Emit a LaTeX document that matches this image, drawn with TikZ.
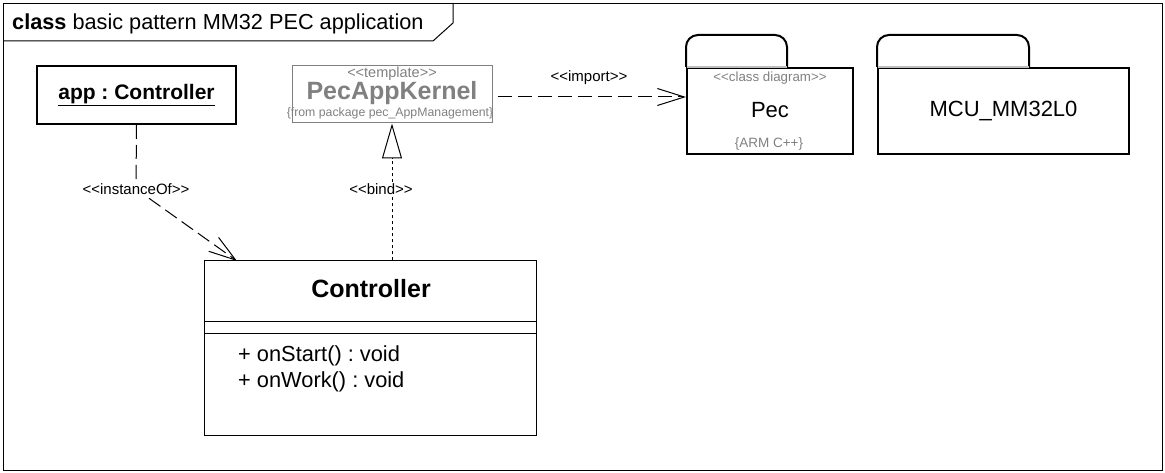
\documentclass[tikz,border=0pt]{standalone}
\usepackage{fontspec}
\setmainfont{Liberation Sans}[Ligatures=TeXOff]
\usetikzlibrary{arrows.meta}

\definecolor{stereogray}{RGB}{128,128,128}
\definecolor{tabgray}{RGB}{190,190,190}
\frenchspacing

\begin{document}
\begin{tikzpicture}[
        x=1pt, y=-1pt,
        class box/.style={
            draw,
            line width=1pt,
            minimum width=332pt,
            minimum height=174pt,
            inner sep=0pt
        },
        object box/.style={
            draw,
            line width=2pt,
            minimum width=199pt,
            minimum height=58pt,
            inner sep=0pt,
            font=\fontsize{21}{25}\selectfont\bfseries
        },
        template box/.style={
            draw=stereogray,
            line width=1pt,
            minimum width=200pt,
            minimum height=57pt,
            inner sep=0pt,
            text=stereogray,
            align=center
        },
        package body/.style={
            draw,
            line width=2pt,
            inner sep=0pt,
            minimum height=86pt
        },
        small label/.style={
            font=\fontsize{15}{18}\selectfont,
            fill=white,
            inner sep=1pt
        },
        uml dashed/.style={
            line width=1pt,
            dash pattern=on 14pt off 6pt
        },
        uml open/.style={
            -{Straight Barb[length=27pt,width=17pt,line width=1pt]}
        }
    ]
        \useasboundingbox (0,0) rectangle (1165,473);

        % diagram frame with title tab
        \node[draw, line width=1pt, minimum width=1159pt, minimum height=467pt,
            inner sep=0pt, anchor=north west] (frame) at (3,3) {};
        \coordinate (tab corner) at (453,3);
        \draw[line width=1pt] (tab corner) -- ++(0,20) -- (433,41) -- (3,41);
        \node[anchor=base west, font=\fontsize{21.7}{26}\selectfont, inner sep=0pt]
            (title) at (12,30) {\textbf{class} basic pattern MM32 PEC application};

        % object and classes
        \node[object box] (app) at (136.5,95)
            {\underline{app : Controller}};
        \node[template box] (kernel) at (392,94.5) {};
        \node[font=\fontsize{14.5}{17}\selectfont, text=stereogray]
            at (392,74) {<<template>>};
        \node[font=\fontsize{25}{30}\selectfont\bfseries, text=stereogray]
            at (392,93) {PecAppKernel};
        \node[font=\fontsize{12.3}{15}\selectfont, text=stereogray]
            at (390,113) {\{from package pec\_AppManagement\}};

        \node[class box] (controller) at (370,348) {};
        \draw[line width=1pt] (204,321) -- (536,321);
        \draw[line width=1pt] (204,333) -- (536,333);
        \node[font=\fontsize{25}{30}\selectfont\bfseries] at (371,289) {Controller};
        \node[anchor=north west, align=left, inner sep=0pt,
            font=\fontsize{21.8}{25.5}\selectfont] at (238,346)
            {+ onStart() : void\\+ onWork() : void};

        % packages
        \node[package body, minimum width=166pt] (pec) at (770,111) {};
        \draw[line width=2pt, rounded corners=12pt]
            (pec.north west) -- ++(0,-32) -- ++(101,0) -- ++(0,32);
        \draw[tabgray, line width=2pt] ([xshift=1pt]pec.north west) -- ++(100,0);
        \node[font=\fontsize{13.3}{16}\selectfont, text=stereogray]
            at (770,78) {<<class diagram>>};
        \node[font=\fontsize{22}{26}\selectfont] at (770,110) {Pec};
        \node[font=\fontsize{13.5}{16}\selectfont, text=stereogray]
            at (769,144) {\{ARM C++\}};

        \node[package body, minimum width=251pt,
            font=\fontsize{22}{26}\selectfont] (mcu) at (1003.5,111) {MCU\_MM32L0};
        \draw[line width=2pt, rounded corners=12pt]
            (mcu.north west) -- ++(0,-32) -- ++(152,0) -- ++(0,32);
        \draw[tabgray, line width=2pt] ([xshift=1pt]mcu.north west) -- ++(151,0);

        % relations
        \coordinate (inst bend) at (136,189);
        \draw[uml dashed, uml open] (app.south) -- (inst bend) -- (237,261);
        \node[small label] at (inst bend) {<<instanceOf>>};

        \draw[line width=1pt, dash pattern=on 3pt off 3pt,
            -{Triangle[open, length=35pt, width=20pt, line width=1pt]}]
            (controller.north -| 392,0) -- (kernel.south -| 392,0);
        \node[small label] at (381,189) {<<bind>>};

        \draw[uml dashed, uml open] (498,97) -- (pec.west |- 0,97);
        \node[font=\fontsize{15}{18}\selectfont] at (589,78) {<<import>>};
    \end{tikzpicture}
\end{document}
